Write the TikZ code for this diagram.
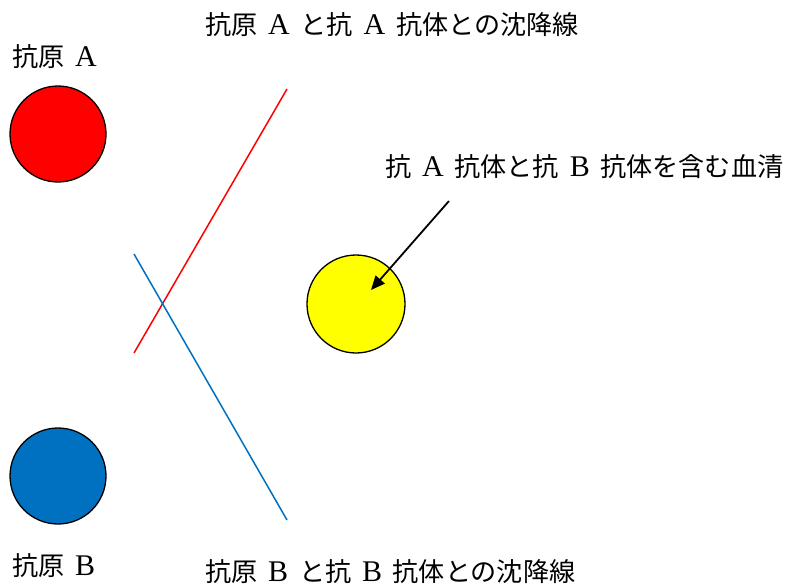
\documentclass[tikz,border=0pt]{standalone}
\usepackage{fontspec}
\setmainfont{Liberation Serif}
\newfontfamily\jpfont[Scale=0.87]{Noto Sans CJK JP}
\newcommand{\ja}[1]{{\jpfont #1}}
\newcommand{\gap}{\hspace{0.36em}}
\usepackage{tikz}
\usetikzlibrary{arrows.meta, positioning}

\definecolor{antired}{RGB}{255,0,0}
\definecolor{antiblue}{RGB}{0,112,192}
\definecolor{serumyellow}{RGB}{255,255,0}

\begin{document}
\begin{tikzpicture}[x=1pt, y=-1pt,
    every node/.style={font=\fontsize{30}{34}\selectfont, inner sep=0pt},
    well/.style={circle, draw=black, line width=1.3pt, minimum size=96pt},
    label/.style={anchor=west}]
  \useasboundingbox (0,0) rectangle (790,587);

  % Wells ------------------------------------------------------------------
  \node[well, fill=antired]      (wellA) at (58,134) {};
  \node[well, fill=antiblue]     (wellB) at (58,476) {};
  \node[well, fill=serumyellow, minimum size=98pt] (serum) at (356,304) {};

  % Precipitin lines -------------------------------------------------------
  \coordinate (lineAlow)  at (134,353);
  \coordinate (lineAhigh) at (287,89);
  \coordinate (lineBhigh) at (134,254);
  \coordinate (lineBlow)  at (287,520);
  \draw[antired, line width=1.5pt]  (lineAlow) -- (lineAhigh);
  \draw[antiblue, line width=1.5pt] (lineBhigh) -- (lineBlow);

  % Labels -----------------------------------------------------------------
  \node[label] (labA)     at (12,57)   {\ja{抗原}\gap A};
  \node[label] (labB)     at (12,566)  {\ja{抗原}\gap B};
  \node[label] (titleA)   at (205,25)  {\ja{抗原}\gap A\gap\ja{と抗}\gap A\gap\ja{抗体との沈降線}};
  \node[label] (titleB)   at (205,572) {\ja{抗原}\gap B\gap\ja{と抗}\gap B\gap\ja{抗体との沈降線}};
  \node[label] (labSerum) at (385,167) {\ja{抗}\gap A\gap\ja{抗体と抗}\gap B\gap\ja{抗体を含む血清}};

  % Arrow to serum well ----------------------------------------------------
  \coordinate (arrTail) at (449,201);
  \coordinate (arrHead) at (371,290);
  \draw[-{Triangle[length=14pt, width=12pt]}, line width=1.8pt]
    (arrTail) -- (arrHead);
\end{tikzpicture}
\end{document}
